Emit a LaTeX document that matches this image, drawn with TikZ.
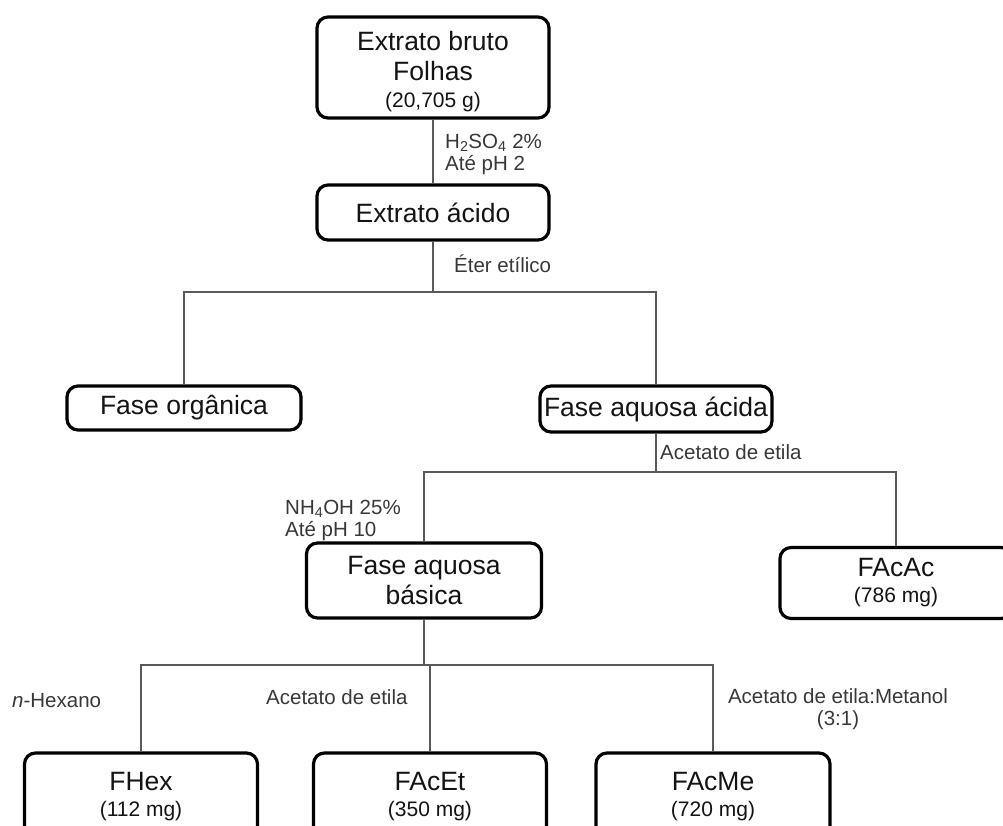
\documentclass[tikz,border=0pt]{standalone}
\usepackage{fontspec}
\setmainfont{Liberation Sans}
\newcommand{\titlesize}{\fontsize{26.5}{30}\selectfont}
\newcommand{\subsize}{\fontsize{21}{25}\selectfont}
\newcommand{\lblsize}{\fontsize{20.5}{22}\selectfont}
\tikzset{
  box/.style={draw=black, line width=3.2pt, rounded corners=11pt, fill=white,
    align=center, inner sep=0pt, font=\titlesize, text=black!92},
  conn/.style={draw=black!65, line width=1.5pt},
  lbl/.style={font=\lblsize, text=black!78, inner sep=0pt, anchor=base west, align=left},
}
\begin{document}
\begin{tikzpicture}[x=1pt, y=-1pt]
  \useasboundingbox (0,0) rectangle (1003,825);
  \clip (0,0) rectangle (1003,825);

  % process boxes
  \node[box, minimum width=232pt, minimum height=101pt] (b1) at (433,67.5)
    {\rule{0pt}{27pt}Extrato bruto\\Folhas\\[-3pt]{\subsize (20,705 g)}};
  \node[box, minimum width=232pt, minimum height=55pt] (b2) at (433,212.5) {Extrato ácido};
  \node[box, minimum width=234pt, minimum height=44pt] (b3) at (184,408) {Fase orgânica};
  \node[box, minimum width=232pt, minimum height=46pt] (b4) at (656,409) {Fase aquosa ácida};
  \node[box, minimum width=235pt, minimum height=75pt] (b5) at (424,580.5) {Fase aquosa\\básica};
  \node[box, minimum width=232pt, minimum height=71pt] (b6) at (896,583)
    {FAcAc\\[-4pt]{\subsize (786 mg)}};
  \node[box, minimum width=233pt, minimum height=84pt] (b7) at (141,795)
    {\rule{0pt}{22pt}FHex\\[-4pt]{\subsize (112 mg)}};
  \node[box, minimum width=233pt, minimum height=84pt] (b8) at (430,795)
    {\rule{0pt}{22pt}FAcEt\\[-4pt]{\subsize (350 mg)}};
  \node[box, minimum width=234pt, minimum height=84pt] (b9) at (713,795)
    {\rule{0pt}{22pt}FAcMe\\[-4pt]{\subsize (720 mg)}};

  % branching points
  \coordinate (s1) at (433,292);
  \coordinate (s2) at (656,472);
  \coordinate (s3) at (426,665);

  % connectors
  \draw[conn] (b1.south) -- (b2.north);
  \draw[conn] (b2.south) -- (s1);
  \draw[conn] (b3.north) |- (s1) -| (b4.north);
  \draw[conn] (b4.south) -- (s2);
  \draw[conn] (b5.north) |- (s2) -| (b6.north);
  \draw[conn] (b5.south) -- (b5.south |- s3);
  \draw[conn] (b7.north) |- (s3) -| (b9.north);
  \draw[conn] (s3 -| b8.north) -- (b8.north);

  % reagent labels (base anchor sits on the last line)
  \node[lbl] (l1) at (445,170) {H\textsubscript{2}SO\textsubscript{4} 2\%\\Até pH 2};
  \node[lbl] (l2) at (454,272) {Éter etílico};
  \node[lbl] (l3) at (660,459) {Acetato de etila};
  \node[lbl] (l4) at (285,536) {NH\textsubscript{4}OH 25\%\\Até pH 10};
  \node[lbl] (l5) at (12,707) {\textit{n}-Hexano};
  \node[lbl] (l6) at (266,704) {Acetato de etila};
  \node[lbl, anchor=base, align=center] (l7) at (838,725) {Acetato de etila:Metanol\\(3:1)};
\end{tikzpicture}
\end{document}
